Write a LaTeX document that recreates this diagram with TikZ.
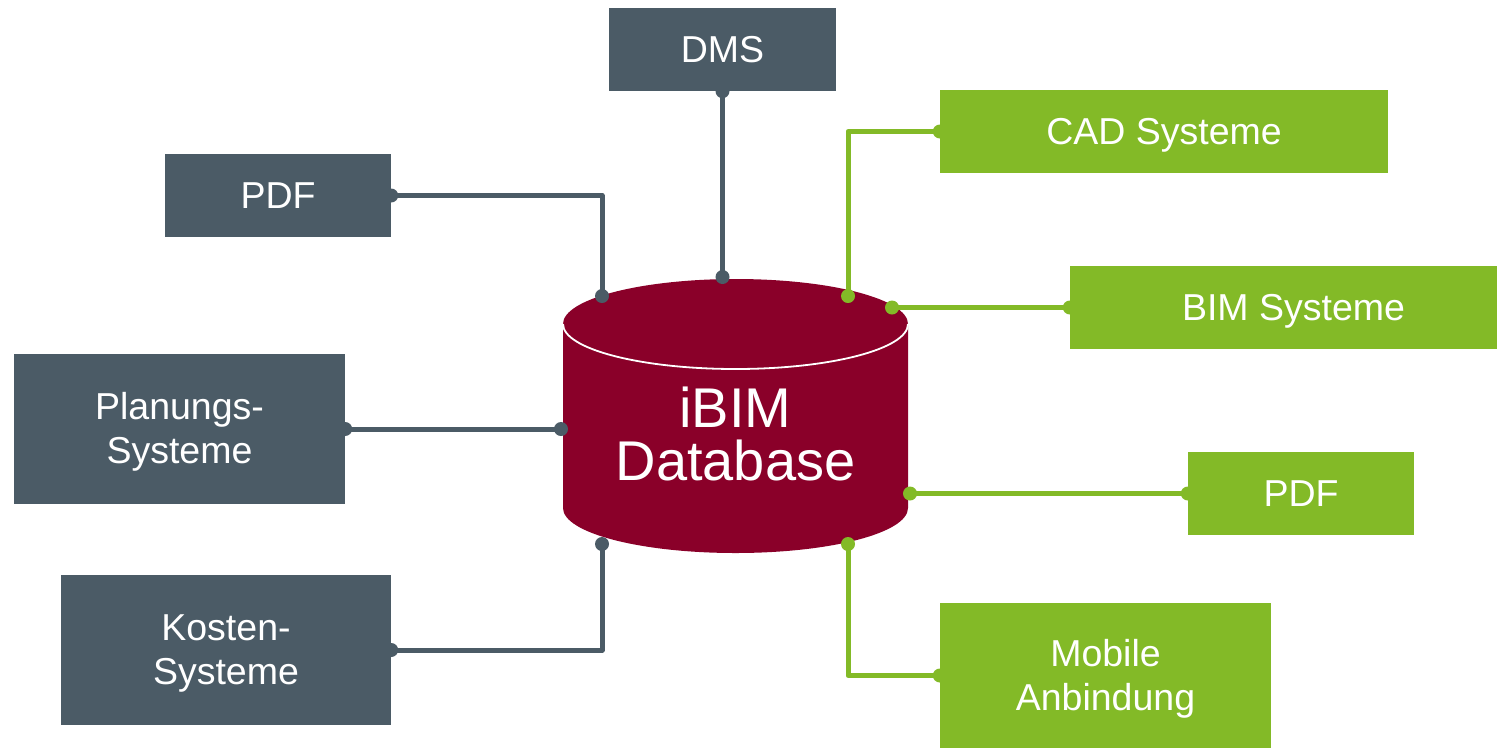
\documentclass[tikz,border=0pt]{standalone}
\usepackage{fontspec}
\setmainfont{Liberation Sans}
\definecolor{slate}{HTML}{4B5B66}
\definecolor{lime}{HTML}{83BA27}
\definecolor{wine}{HTML}{8A0029}
\newcommand\boxtxt[1]{\raisebox{-4pt}[\height][\depth]{\begin{tabular}{@{}c@{}}#1\end{tabular}}}
\tikzset{
  box/.style={inner sep=0pt, text=white, align=center, font=\fontsize{37.5}{44}\selectfont},
  gbox/.style={box, fill=slate},
  lbox/.style={box, fill=lime},
  gconn/.style={draw=slate, line width=5pt, line join=round},
  lconn/.style={draw=lime, line width=5pt, line join=round},
}
\begin{document}
\begin{tikzpicture}[x=1pt,y=1pt]
\useasboundingbox (0,0) rectangle (1497,-748);
% cylinder
\fill[wine] (563,-324) -- (563,-508) arc[start angle=180,end angle=360,x radius=172.5pt,y radius=45pt]
  -- (908,-324) arc[start angle=0,end angle=180,x radius=172.5pt,y radius=45pt] -- cycle;
\draw[white, line width=1.8pt] (563,-324) arc[start angle=180,end angle=360,x radius=172.5pt,y radius=45pt];
\node[text=white, align=center, font=\fontsize{56}{53}\selectfont] (db) at (735.5,-434) {iBIM\\Database};
\coordinate (c1) at (602,-296);
\coordinate (c2) at (722.5,-277);
\coordinate (c3) at (848,-296);
\coordinate (c4) at (892,-307.5);
\coordinate (c5) at (561,-429);
\coordinate (c6) at (910,-493.5);
\coordinate (c7) at (602,-544);
\coordinate (c8) at (848,-544);
% boxes
\node[gbox, minimum width=227pt, minimum height=83pt] (dms) at (722.5,-49.5) {\boxtxt{DMS}};
\node[gbox, minimum width=226pt, minimum height=83pt] (pdfl) at (278,-195.5) {\boxtxt{PDF}};
\node[gbox, minimum width=331pt, minimum height=150pt] (plan) at (179.5,-429) {\boxtxt{Planungs-\\Systeme}};
\node[gbox, minimum width=330pt, minimum height=150pt] (kost) at (226,-650) {\boxtxt{Kosten-\\Systeme}};
\node[lbox, minimum width=448pt, minimum height=83pt] (cad) at (1164,-131.5) {\boxtxt{CAD Systeme}};
\node[lbox, minimum width=427pt, minimum height=83pt] (bim) at (1283.5,-307.5) {\boxtxt{\hspace*{20pt}BIM Systeme}};
\node[lbox, minimum width=226pt, minimum height=83pt] (pdfr) at (1301,-493.5) {\boxtxt{PDF}};
\node[lbox, minimum width=331pt, minimum height=145pt] (mob) at (1105.5,-675.5) {\boxtxt{Mobile\\Anbindung}};
% connectors
\draw[gconn] (dms.south) -- (c2);
\draw[gconn] (pdfl.east) -| (c1);
\draw[gconn] (plan.east) -- (c5);
\draw[gconn] (kost.east) -| (c7);
\draw[lconn] (cad.west) -| (c3);
\draw[lconn] (bim.west) -- (c4);
\draw[lconn] (pdfr.west) -- (c6);
\draw[lconn] (mob.west) -| (c8);
% dots
\foreach \p in {dms.south,pdfl.east,plan.east,kost.east,c1,c2,c5,c7}
  \fill[slate] (\p) circle[radius=7pt];
\foreach \p in {cad.west,bim.west,pdfr.west,mob.west,c3,c4,c6,c8}
  \fill[lime] (\p) circle[radius=7pt];
\end{tikzpicture}
\end{document}
